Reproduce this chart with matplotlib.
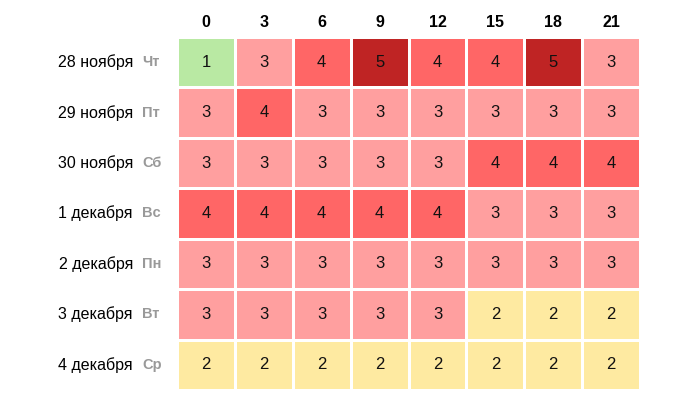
import numpy as np
import matplotlib
matplotlib.use("Agg")
import matplotlib.pyplot as plt
from matplotlib.colors import ListedColormap, BoundaryNorm

hours = [0, 3, 6, 9, 12, 15, 18, 21]
dates = ["28 ноября", "29 ноября", "30 ноября", "1 декабря", "2 декабря", "3 декабря", "4 декабря"]
weekdays = ["Чт", "Пт", "Сб", "Вс", "Пн", "Вт", "Ср"]
values = np.array([
    [1, 3, 4, 5, 4, 4, 5, 3],
    [3, 4, 3, 3, 3, 3, 3, 3],
    [3, 3, 3, 3, 3, 4, 4, 4],
    [4, 4, 4, 4, 4, 3, 3, 3],
    [3, 3, 3, 3, 3, 3, 3, 3],
    [3, 3, 3, 3, 3, 2, 2, 2],
    [2, 2, 2, 2, 2, 2, 2, 2],
])
level_colors = ["#b9e9a3", "#feeaa1", "#ff9f9f", "#ff6666", "#bf2424"]

plt.rcParams["font.family"] = ["Liberation Sans", "DejaVu Sans"]

W, H = 679, 403
fig = plt.figure(figsize=(W / 100, H / 100), dpi=100)
# grid spans x 177..640, y 37..390 in pixels
x0, x1, y0, y1 = 177, 640, 37, 390
ax = fig.add_axes([x0 / W, 1 - y1 / H, (x1 - x0) / W, (y1 - y0) / H])

cmap = ListedColormap(level_colors)
norm = BoundaryNorm([0.5, 1.5, 2.5, 3.5, 4.5, 5.5], cmap.N)
nr, nc = values.shape
ax.pcolormesh(np.arange(nc + 1), np.arange(nr + 1), values, cmap=cmap, norm=norm,
              edgecolors="white", linewidth=0.8)
ax.set_xlim(0, nc)
ax.set_ylim(nr, 0)
ax.set_axis_off()

for i in range(nr):
    for j in range(nc):
        ax.text(j + 0.5, i + 0.5, str(values[i, j]), ha="center", va="center",
                fontsize=12, color="#111111")

for j, h in enumerate(hours):
    fig.text((x0 + (j + 0.5) * (x1 - x0) / nc) / W, 1 - 22.5 / H, str(h), ha="center",
             va="center", fontsize=11.5, fontweight="bold", color="black")

for i, (d, wd) in enumerate(zip(dates, weekdays)):
    yc = 1 - (y0 + (i + 0.5) * (y1 - y0) / nr) / H
    fig.text(133 / W, yc, d, ha="right", va="center", fontsize=11.5, color="black")
    fig.text(142 / W, yc, wd, ha="left", va="center", fontsize=10.5,
             fontweight="bold", color="#999999")

fig.savefig("out.png", dpi=100)
